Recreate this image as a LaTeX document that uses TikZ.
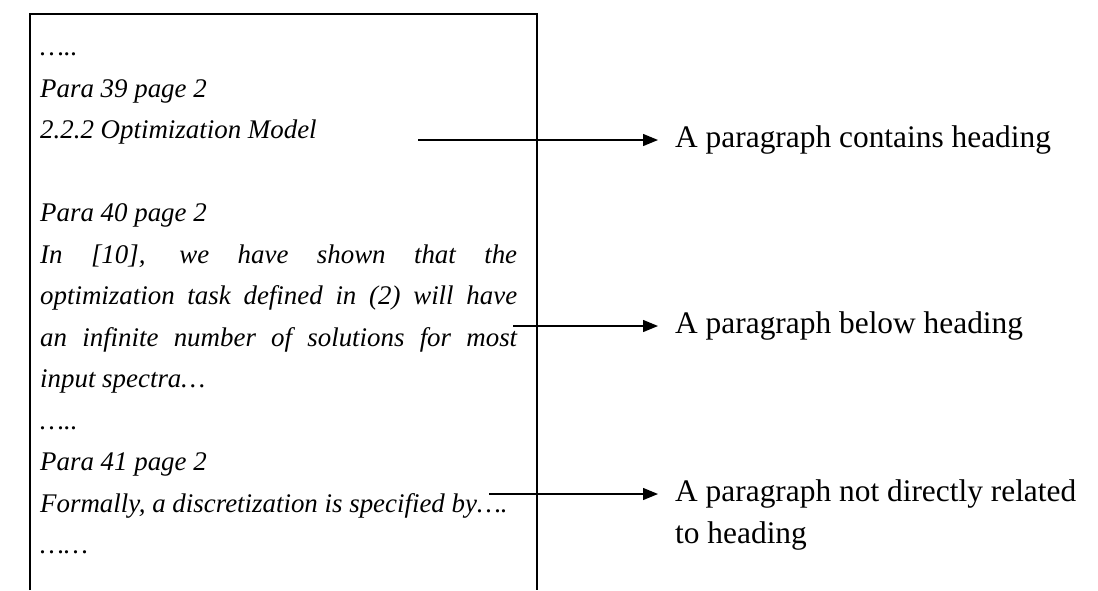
\documentclass[tikz,border=0pt]{standalone}
\usepackage{fontspec}
\setmainfont{Liberation Serif}
\usepackage{tikz}
\usetikzlibrary{arrows.meta, positioning}

\tikzset{
  paraline/.style={anchor=base west, inner sep=0pt, font=\fontsize{26.9}{41.5}\selectfont\itshape},
  notelabel/.style={anchor=west, inner sep=0pt, font=\fontsize{31.4}{41.5}\selectfont},
  pointer/.style={line width=1.3pt, shorten >=17pt, -{Triangle[length=15pt,width=12pt]}}
}

\begin{document}
\begin{tikzpicture}[x=1pt, y=-1pt]
  \useasboundingbox (0,0) rectangle (1098,590);
  % page frame, open at the bottom
  \draw[line width=1.3pt] (30,590) -- (30,14) -- (537,14) -- (537,590);

  % the paragraphs of the page
  \node[paraline] (dotsA)   at (40,55.5)  {…..};
  \node[paraline] (para39)  at (40,97)    {Para 39 page 2};
  \node[paraline] (heading) at (40,138.5) {2.2.2 Optimization Model};
  \node[paraline] (para40)  at (40,221.5) {Para 40 page 2};
  \node[paraline] (textA)   at (40,263)   {\makebox[477pt][s]{In [10], we have shown that the}};
  \node[paraline] (textB)   at (40,304.5) {\makebox[477pt][s]{optimization task defined in (2) will have}};
  \node[paraline] (textC)   at (40,346)   {\makebox[477pt][s]{an infinite number of solutions for most}};
  \node[paraline] (textD)   at (40,387.5) {input spectra…};
  \node[paraline] (dotsB)   at (40,429)   {…..};
  \node[paraline] (para41)  at (40,470.5) {Para 41 page 2};
  \node[paraline] (textE)   at (40,512)   {Formally, a discretization is specified by….};
  \node[paraline] (dotsC)   at (40,553.5) {……};

  % what each paragraph is
  \node[notelabel] (kindA) at (675,140) {A paragraph contains heading};
  \node[notelabel] (kindB) at (675,326) {A paragraph below heading};
  \node[notelabel] (kindC) at (675,494) {A paragraph not directly related};
  \node[anchor=base west, inner sep=0pt, font=\fontsize{31.4}{41.5}\selectfont]
       (kindC2) at ([yshift=-41.5pt]kindC.base west) {to heading};

  \coordinate (fromA) at (418,140);
  \coordinate (fromB) at (513,326);
  \coordinate (fromC) at (489,494);
  \draw[pointer] (fromA) -- (fromA -| kindA.west);
  \draw[pointer] (fromB) -- (fromB -| kindB.west);
  \draw[pointer] (fromC) -- (fromC -| kindC.west);
\end{tikzpicture}
\end{document}
